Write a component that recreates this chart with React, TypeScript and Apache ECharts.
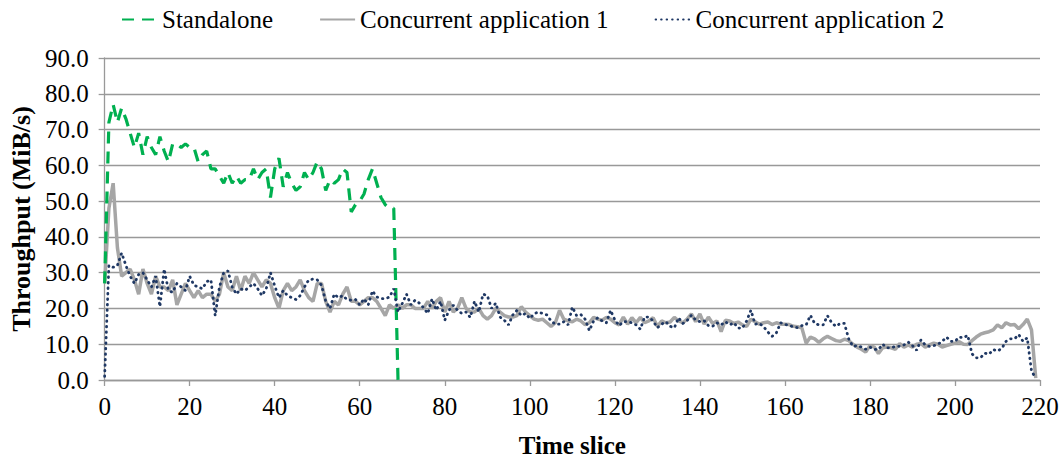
import React, { useEffect, useRef } from "react";
import * as echarts from "echarts";

const seriesNames = ["Standalone", "Concurrent application 1", "Concurrent application 2"];

const standalone = [
  27, 72, 77, 72, 76, 73, 69, 65, 69, 63,
  68, 65, 63, 68, 64, 61, 66, 66, 65, 66,
  65, 65, 61, 63, 64, 59, 59, 57, 55, 58,
  55, 57, 55, 56, 56, 59, 56, 58, 59, 51,
  59, 62, 54, 58, 55, 53, 54, 58, 56, 58,
  61, 59, 53, 56, 55, 56, 59, 58, 47, 49,
  50, 52, 56, 59, 55, 51, 49, 48, 48, 0,
];

const concurrent1 = [
  27, 48, 55, 37, 29, 30, 31, 28, 24, 31,
  27, 24, 29, 26, 26, 25, 28, 21, 24, 27,
  25, 23, 25, 23, 24, 24, 22, 24, 30, 26,
  25, 29, 25, 29, 27, 30, 28, 26, 28, 27,
  23, 20, 25, 27, 25, 26, 28, 25, 23, 22,
  27, 27, 22, 19, 22, 21, 24, 26, 22, 22,
  21, 22, 23, 23, 22, 20, 18, 21, 20, 21,
  20, 21, 21, 20, 20, 20, 22, 20, 22, 23,
  19, 22, 19, 20, 23, 20, 19, 19, 20, 18,
  17, 18, 20, 19, 18, 17.6, 17.6, 18, 20.5, 19,
  18, 17, 16.7, 17, 16, 15, 16, 19.5, 17, 16.5,
  16.3, 17, 16.5, 15.5, 16, 17.5, 17, 16.7, 17.5, 17,
  16, 15.4, 17.6, 15.6, 17.4, 16, 17.5, 16, 16.5, 17.4,
  15, 16.5, 16, 16.2, 17.5, 16.5, 16, 17, 18.5, 16.3,
  18.5, 15.6, 17.6, 15.8, 16.5, 13.5, 16.7, 16.5, 15.8, 16.2,
  15.4, 15, 17, 16.3, 15.6, 16, 16.2, 15.5, 16, 15.6,
  15.6, 15.5, 15, 14.9, 14.5, 10.3, 12, 11.5, 10.5, 11.5,
  12.2, 11.6, 11, 10.8, 11.4, 11, 10, 9.2, 8.6, 7.8,
  9.6, 9.2, 7.4, 9, 9.2, 9, 8.6, 10.2, 9.2, 9.8,
  9.2, 10, 10.2, 9.2, 9.8, 10.3, 10, 9.2, 9.6, 10,
  10.3, 10.7, 10, 9.9, 11, 12, 12.8, 13.2, 13.5, 14,
  15.4, 14.6, 16, 15.4, 15.5, 14.3, 15.5, 17, 14, 0.5,
];

const concurrent2 = [
  1, 32, 31.5, 32, 35.5, 32, 29, 27, 29.5, 30,
  28, 26, 29, 20.5, 31, 25, 24.5, 27, 26, 25,
  29, 26.5, 26, 25.5, 27.5, 28, 18, 26, 30, 30.5,
  26, 24, 25.5, 25, 26, 27, 25.5, 23.6, 25.5, 30,
  26.3, 23, 25, 23.6, 23, 22.5, 23.6, 26, 28, 28.2,
  28, 26.5, 22, 20, 24, 23, 23.6, 22.5, 22.3, 22.5,
  21, 22.7, 21, 24.9, 23.2, 22.8, 22.7, 23.2, 25.5, 19,
  21.4, 24, 21, 22.3, 21.5, 20.2, 18.6, 22.7, 19.5, 22,
  16.7, 19.5, 20.9, 19.5, 18.6, 19, 17.5, 22, 19, 24,
  23.6, 20, 21.5, 17.6, 16.7, 15.4, 18.2, 19.5, 18, 18.6,
  17.2, 18.5, 19, 18.6, 18.2, 16.5, 15.6, 15.6, 16.3, 15.4,
  20.4, 18, 18.3, 17, 13.8, 16.5, 17.4, 16.5, 16, 19.5,
  16.8, 15.2, 16.3, 16.3, 16, 15.4, 14.2, 17.6, 17.6, 16.5,
  14.6, 15.6, 16.3, 15, 14.6, 17.4, 15.8, 16.6, 18.1, 16.8,
  16.3, 16.6, 15.2, 15, 16, 15.4, 16.3, 15.4, 16, 14.5,
  14.5, 16.5, 19.5, 15.6, 15.8, 14.9, 13.4, 12.2, 13.2, 16,
  15.6, 15.2, 14.9, 14.6, 15.2, 15.4, 18.1, 15.8, 15.4, 15.4,
  18, 16, 15, 15.8, 15.8, 11.5, 9.4, 9.6, 9.2, 8.6,
  9.2, 8.6, 8.5, 10, 9, 9, 9.4, 9.4, 9.8, 10.6,
  9.6, 8.3, 11.2, 9.8, 9.4, 9.6, 10, 10.8, 12, 10.8,
  10.8, 12, 11.8, 12.5, 7.3, 6.2, 6.2, 7.5, 7.2, 8.5,
  8.1, 8.8, 10.8, 11.5, 11.5, 12.7, 10.8, 11.8, 2.5, 0.5,
];

const FONT = "Liberation Serif";

const toPairs = (arr: number[]) => arr.map((v, i) => [i, v]);

export default function App() {
  const ref = useRef<HTMLDivElement>(null);
  useEffect(() => {
    document.body.style.margin = "0";
    const chart = echarts.init(ref.current!, null, { renderer: "svg" });
    chart.setOption({
      animation: false,
      backgroundColor: "#ffffff",
      textStyle: { fontFamily: FONT },
      grid: { left: 104, right: 24, top: 58, bottom: 77, containLabel: false },
      legend: {
        data: seriesNames,
        left: 116,
        top: 2,
        itemWidth: 35,
        itemHeight: 14,
        itemGap: 46,
        itemStyle: { opacity: 0 },
        textStyle: { fontFamily: FONT, fontSize: 25, color: "#000" },
      },
      xAxis: {
        type: "value",
        min: 0,
        max: 220,
        interval: 20,
        name: "Time slice",
        nameLocation: "middle",
        nameGap: 53,
        nameTextStyle: { fontFamily: FONT, fontSize: 25, fontWeight: "bold", color: "#000" },
        axisLine: { show: true, lineStyle: { color: "#999999", width: 1.3 } },
        axisTick: { show: true, length: 6, lineStyle: { color: "#999999", width: 1.3 } },
        axisLabel: { fontFamily: FONT, fontSize: 25, color: "#000", margin: 14 },
        splitLine: { show: false },
      },
      yAxis: {
        type: "value",
        min: 0,
        max: 90,
        interval: 10,
        name: "Throughput (MiB/s)",
        nameLocation: "middle",
        nameGap: 70,
        nameTextStyle: { fontFamily: FONT, fontSize: 26, fontWeight: "bold", color: "#000" },
        axisLine: { show: true, lineStyle: { color: "#999999", width: 1.3 } },
        axisTick: { show: true, length: 6, lineStyle: { color: "#999999", width: 1.3 } },
        axisLabel: {
          fontFamily: FONT,
          fontSize: 25,
          color: "#000",
          margin: 16,
          formatter: (v: number) => v.toFixed(1),
        },
        splitLine: { show: true, lineStyle: { color: "#999999", width: 1.3 } },
      },
      series: [
        {
          name: seriesNames[0],
          type: "line",
          data: toPairs(standalone),
          showSymbol: false,
          symbol: "none",
          z: 3,
          lineStyle: { color: "#00B050", width: 3.2, type: [12, 8] },
          itemStyle: { color: "#00B050" },
        },
        {
          name: seriesNames[1],
          type: "line",
          data: toPairs(concurrent1),
          showSymbol: false,
          symbol: "none",
          z: 2,
          lineStyle: { color: "#A6A6A6", width: 3.5, type: "solid" },
          itemStyle: { color: "#A6A6A6" },
        },
        {
          name: seriesNames[2],
          type: "line",
          data: toPairs(concurrent2),
          showSymbol: false,
          symbol: "none",
          z: 4,
          lineStyle: { color: "#1F3864", width: 2.8, type: [0.5, 5], cap: "round" },
          itemStyle: { color: "#1F3864" },
        },
      ],
    });
    return () => chart.dispose();
  }, []);
  return (
    <div
      ref={ref}
      style={{ position: "fixed", left: 0, top: 0, width: 1064, height: 463 }}
    />
  );
}
